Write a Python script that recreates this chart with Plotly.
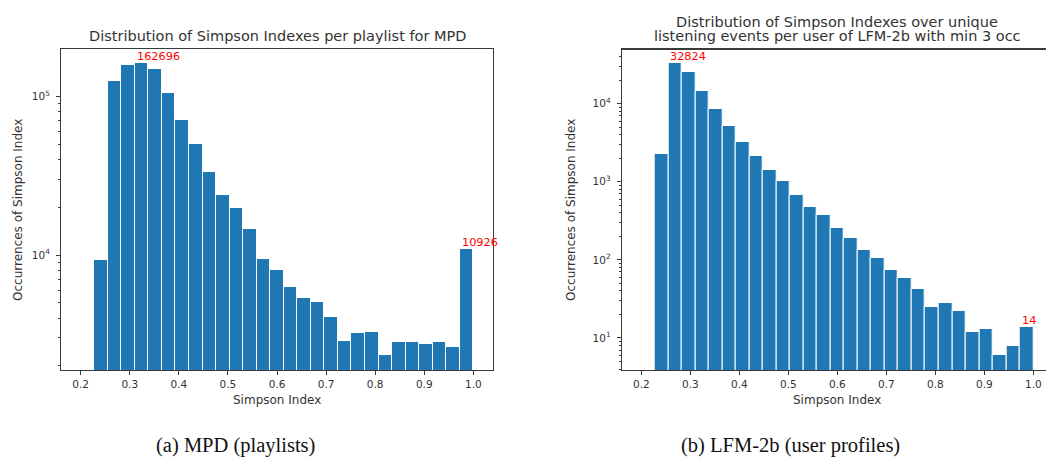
import math
import plotly.graph_objects as go

# Histogram bins (29 equal bins over [0.2, 1.0]; the first bin is empty)
bin_width = 0.8 / 29
bin_left = [0.2276, 0.2552, 0.2828, 0.3103, 0.3379, 0.3655, 0.3931, 0.4207,
            0.4483, 0.4759, 0.5034, 0.5310, 0.5586, 0.5862, 0.6138, 0.6414,
            0.6690, 0.6966, 0.7241, 0.7517, 0.7793, 0.8069, 0.8345, 0.8621,
            0.8897, 0.9172, 0.9448, 0.9724]

# Simpson index counts per playlist (MPD)
mpd_counts = [9300, 125400, 158500, 162696, 148000, 105400, 70900, 49840,
              33340, 23990, 19860, 14580, 9395, 8080, 6258, 5383, 5056, 4086,
              2872, 3211, 3286, 2343, 2830, 2830, 2761, 2830, 2633, 10926]

# Simpson index counts per user profile (LFM-2b, min 3 occurrences)
lfm_counts = [2270, 32824, 25460, 14540, 8480, 5180, 3262, 2158, 1429, 1023,
              677, 480, 376, 256, 189, 135, 107, 75, 59, 42, 25, 28, 22, 12,
              13, 6, 8, 14]

x_ticks = [0.2, 0.3, 0.4, 0.5, 0.6, 0.7, 0.8, 0.9, 1.0]
x_tick_text = ["0.2", "0.3", "0.4", "0.5", "0.6", "0.7", "0.8", "0.9", "1.0"]

mpd_major = [1e4, 1e5]
mpd_major_text = ["10<sup>4</sup>", "10<sup>5</sup>"]
mpd_minor = [2e3, 3e3, 4e3, 5e3, 6e3, 7e3, 8e3, 9e3,
             2e4, 3e4, 4e4, 5e4, 6e4, 7e4, 8e4, 9e4]

lfm_major = [1e1, 1e2, 1e3, 1e4]
lfm_major_text = ["10<sup>1</sup>", "10<sup>2</sup>", "10<sup>3</sup>", "10<sup>4</sup>"]
lfm_minor = [4, 5, 6, 7, 8, 9, 20, 30, 40, 50, 60, 70, 80, 90,
             200, 300, 400, 500, 600, 700, 800, 900,
             2e3, 3e3, 4e3, 5e3, 6e3, 7e3, 8e3, 9e3, 2e4, 3e4, 4e4]

titles_left = ["Distribution of Simpson Indexes per playlist for MPD"]
titles_right = ["Distribution of Simpson Indexes over unique",
                "listening events per user of LFM-2b with min 3 occ"]
x_title = "Simpson Index"
y_title = "Occurrences of Simpson Index"
captions = ["(a) MPD (playlists)", "(b) LFM-2b (user profiles)"]

W, H = 1046, 459
FONT = "DejaVu Sans"
TXT = "#333333"
AX = "#3a3a3a"
BAR = "#1f77b4"


def px(x):
    return x / W


def py(y):
    return 1 - y / H


fig = go.Figure()
fig.add_trace(go.Bar(x=bin_left, y=mpd_counts, width=bin_width, offset=0,
                     marker=dict(color=BAR, line=dict(color="white", width=1)),
                     xaxis="x", yaxis="y", showlegend=False))
fig.add_trace(go.Bar(x=bin_left, y=lfm_counts, width=bin_width, offset=0,
                     marker=dict(color=BAR, line=dict(color="white", width=1)),
                     xaxis="x2", yaxis="y2", showlegend=False))

xcommon = dict(tickmode="array", tickvals=x_ticks, ticktext=x_tick_text,
               ticks="outside", ticklen=4, tickcolor=AX, tickwidth=1,
               showline=True, linecolor=AX, linewidth=1, mirror=True,
               showgrid=False, zeroline=False,
               tickfont=dict(family=FONT, size=10.5, color=TXT))
ycommon = dict(type="log", tickmode="array", ticks="outside", ticklen=4,
               tickcolor=AX, tickwidth=1, showline=True, linecolor=AX,
               linewidth=1, showgrid=False, zeroline=False,
               ticklabelstandoff=4,
               tickfont=dict(family=FONT, size=10.5, color=TXT))

top, bottom = 49, 370
# right panel: 490 px per unit on x, left spine at 621.7 px, clipped at the page edge
x2_end = 0.16 + (W - 621.7) / 490.0

fig.update_layout(
    width=W, height=H,
    margin=dict(l=0, r=0, t=0, b=0),
    paper_bgcolor="white", plot_bgcolor="white",
    bargap=0,
    xaxis=dict(domain=[px(61), px(493)], range=[0.16, 1.04], anchor="y", **xcommon),
    yaxis=dict(domain=[py(bottom), py(top)], range=[3.2754, 5.298], anchor="x",
               tickvals=mpd_major, ticktext=mpd_major_text, mirror=True,
               minor=dict(tickmode="array", tickvals=mpd_minor, ticks="outside",
                          ticklen=2, tickcolor=AX, showgrid=False),
               **ycommon),
    xaxis2=dict(domain=[px(621.7), 1.0], range=[0.16, x2_end],
                anchor="y2", **xcommon),
    yaxis2=dict(domain=[py(bottom), py(top)], range=[0.590, 4.700], anchor="x2",
                tickvals=lfm_major, ticktext=lfm_major_text, mirror=False,
                minor=dict(tickmode="array", tickvals=lfm_minor, ticks="outside",
                           ticklen=2, tickcolor=AX, showgrid=False),
                **ycommon),
    # top frame edge of the right panel, running to the page edge
    shapes=[dict(type="line", xref="paper", yref="paper",
                 x0=px(621.7), x1=1.0, y0=py(top) - 0.5 / H, y1=py(top) - 0.5 / H,
                 line=dict(color=AX, width=1))],
)

ann = []


def text(x, y, s, size, color=TXT, family=FONT, angle=0, xanchor="center"):
    ann.append(dict(x=px(x), y=py(y), xref="paper", yref="paper", text=s,
                    showarrow=False, textangle=angle, xanchor=xanchor,
                    yanchor="middle",
                    font=dict(family=family, size=size, color=color)))


# chart titles
text(277, 35.6, titles_left[0], 14.5)
text(837, 21.6, titles_right[0], 14.5)
text(837, 35.6, titles_right[1], 14.5)

# axis titles
text(277, 400, x_title, 12)
text(837, 400, x_title, 12)
text(18, 210, y_title, 12, angle=-90)
text(571, 210, y_title, 12, angle=-90)

# sub-figure captions
text(235.5, 445, captions[0], 20.5, color="#111111", family="Liberation Serif")
text(790.5, 445, captions[1], 20.5, color="#111111", family="Liberation Serif")

# value labels on the highest bar and the last bar of each chart
for xa, ya, counts in (("x", "y", mpd_counts), ("x2", "y2", lfm_counts)):
    peak = counts.index(max(counts))
    for i in (peak, len(counts) - 1):
        v = counts[i]
        ann.append(dict(x=bin_left[i], y=math.log10(v),
                        xref=xa, yref=ya, text=str(v), showarrow=False,
                        xanchor="left", yanchor="bottom", yshift=-2,
                        font=dict(family=FONT, size=11.3, color="red")))

fig.update_layout(annotations=ann)
fig.write_html("out.html")
